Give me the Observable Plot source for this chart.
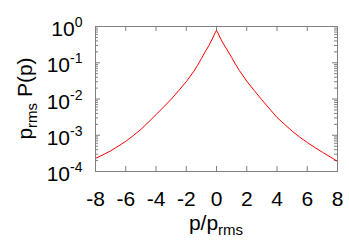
<!DOCTYPE html>
<html><head><meta charset="utf-8">
<script src="https://cdn.jsdelivr.net/npm/d3@7"></script>
<script src="https://cdn.jsdelivr.net/npm/@observablehq/plot@0.6"></script>
<style>html,body{margin:0;padding:0;background:#fff}svg{display:block}</style>
</head><body><div id="chart"></div>
<script>
// p / p_rms
const pValues = [-8, -7.5, -7, -6.5, -6, -5.5, -5, -4.5, -4, -3.5, -3, -2.5, -2, -1.5, -1.25, -1, -0.75, -0.5, -0.25, -0.1, 0,
                 0.1, 0.25, 0.5, 0.75, 1, 1.25, 1.5, 2, 2.5, 3, 3.5, 4, 4.5, 5, 5.5, 6, 6.5, 7, 7.5, 8];
// p_rms P(p)
const probValues = [2.3e-4, 2.9e-4, 3.7e-4, 5.0e-4, 6.8e-4, 9.8e-4, 1.45e-3, 2.3e-3, 3.7e-3, 6.0e-3, 9.8e-3, 0.017, 0.030, 0.058, 0.085, 0.13, 0.20, 0.30, 0.48, 0.66, 0.78,
                    0.66, 0.48, 0.31, 0.21, 0.14, 0.092, 0.062, 0.031, 0.017, 9.5e-3, 5.4e-3, 3.1e-3, 2.0e-3, 1.3e-3, 8.9e-4, 6.3e-4, 4.6e-4, 3.4e-4, 2.55e-4, 1.9e-4];
const xTicks = [-8, -6, -4, -2, 0, 2, 4, 6, 8];
const yExponents = [0, -1, -2, -3, -4];
const yTicks = yExponents.map(e => 10 ** e);
const yMinorTicks = [];
for (const e of [-4, -3, -2, -1]) for (let m = 2; m <= 9; m++) yMinorTicks.push(m * 10 ** e);

const W = 349, H = 242, mL = 95, mR = 12, mT = 26, mB = 71;
const fw = W - mL - mR, fh = H - mT - mB;
const frameColor = "#808080";
const font = "'Liberation Sans', Arial, Helvetica, sans-serif";
const data = pValues.map((p, i) => ({p, P: probValues[i]}));

const chart = Plot.plot({
  width: W, height: H,
  marginLeft: mL, marginRight: mR, marginTop: mT, marginBottom: mB,
  style: {fontFamily: font, fontSize: "21px", color: "#000", background: "#fff"},
  x: {domain: [-8, 8], label: null},
  y: {type: "log", domain: [1e-4, 1], label: null},
  marks: [
    // inward ticks, mirrored
    Plot.tickX(xTicks, {x: d => d, stroke: frameColor, insetTop: fh - 5}),
    Plot.tickX(xTicks, {x: d => d, stroke: frameColor, insetBottom: fh - 5}),
    Plot.tickY(yTicks, {y: d => d, stroke: frameColor, insetRight: fw - 5}),
    Plot.tickY(yTicks, {y: d => d, stroke: frameColor, insetLeft: fw - 5}),
    Plot.tickY(yMinorTicks, {y: d => d, stroke: frameColor, insetRight: fw - 3}),
    Plot.tickY(yMinorTicks, {y: d => d, stroke: frameColor, insetLeft: fw - 3}),
    Plot.axisX(xTicks, {anchor: "bottom", tickSize: 0, tickPadding: 20, tickFormat: d => String(d), fill: "#000"}),
    Plot.axisY(yTicks, {anchor: "left", tickSize: 0, tickPadding: 13, dy: 3, tickFormat: d => "10^" + Math.round(Math.log10(d)), fill: "#000"}),
    Plot.line(data, {x: "p", y: "P", stroke: "#ff0000", strokeWidth: 1}),
    Plot.frame({stroke: frameColor})
  ]
});

const svg = d3.select(chart);
// superscripts on y tick labels
svg.selectAll('g[aria-label="y-axis tick label"] text').each(function() {
  const t = d3.select(this);
  const [base, exp] = t.text().split("^");
  t.text(base);
  t.append("tspan").attr("font-size", 14).attr("dy", -9).text(exp);
});
// axis titles
const xt = svg.append("text")
  .attr("x", mL + fw / 2).attr("y", 230)
  .attr("text-anchor", "middle").attr("font-family", font).attr("font-size", 21).attr("fill", "#000")
  .text("p/p");
xt.append("tspan").attr("font-size", 15).attr("dy", 5).text("rms");
const yt = svg.append("text")
  .attr("transform", `translate(32,${mT + fh / 2}) rotate(-90)`)
  .attr("text-anchor", "middle").attr("font-family", font).attr("font-size", 21).attr("fill", "#000")
  .text("p");
yt.append("tspan").attr("font-size", 15).attr("dy", 5).text("rms");
yt.append("tspan").attr("dy", -5).text(" P(p)");

document.getElementById("chart").appendChild(chart);
</script>
</body></html>
